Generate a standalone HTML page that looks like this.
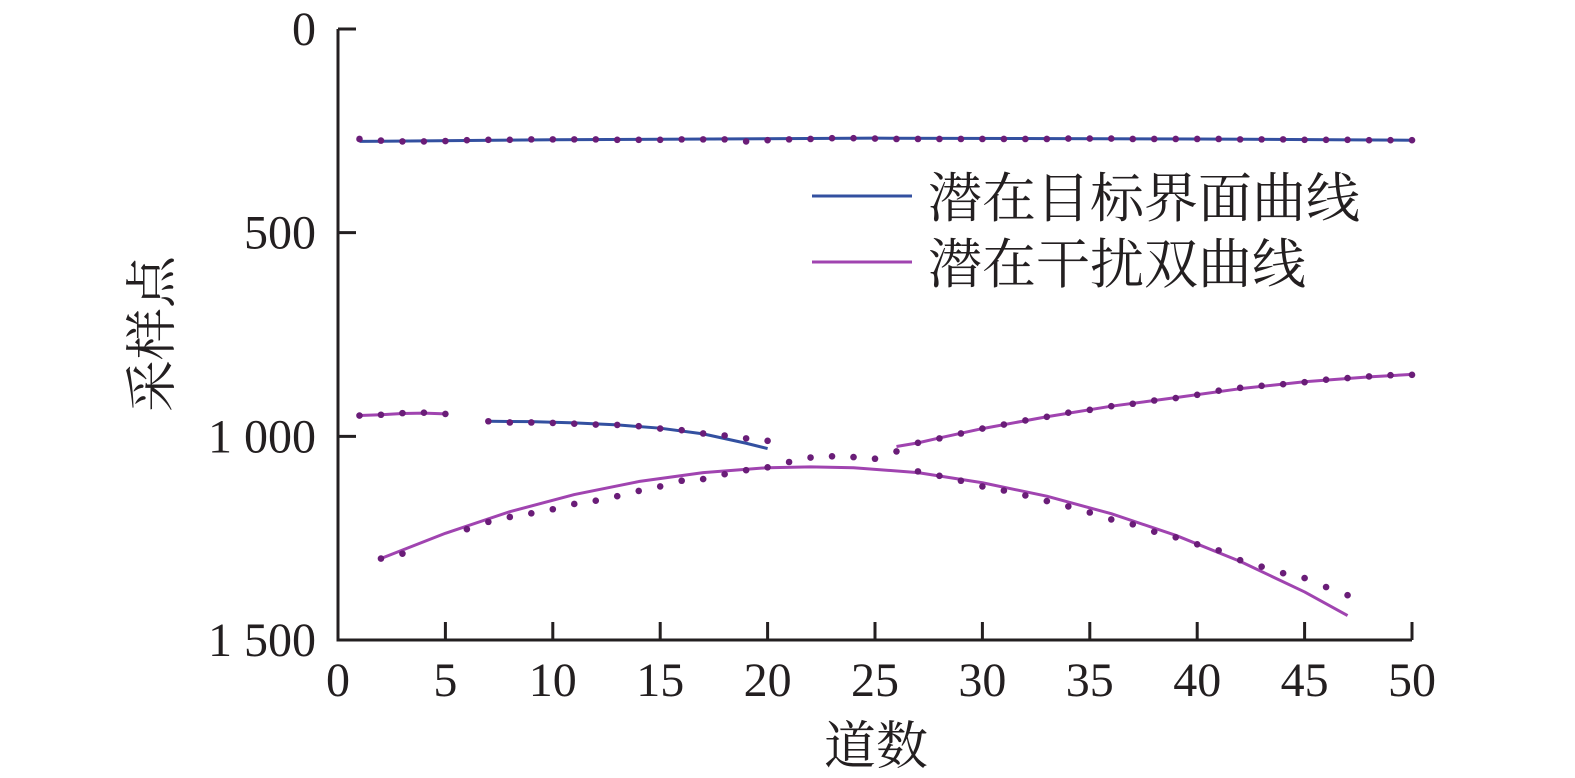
<!DOCTYPE html>
<html><head><meta charset="utf-8"><style>
body{margin:0;background:#fff}
svg{display:block}
text{font-family:"Liberation Serif","Noto Serif CJK SC","Noto Sans CJK SC",serif;fill:#231f20}
</style></head><body>
<svg id="chart" width="1575" height="778" viewBox="0 0 1575 778" xmlns="http://www.w3.org/2000/svg">
<g id="axes"></g>
<g id="series"></g>
<g id="legend">
<line x1="812" y1="196" x2="912" y2="196" stroke="#3350a0" stroke-width="3"/>
<text x="928" y="217" font-size="54">潜在目标界面曲线</text>
<line x1="812" y1="262" x2="912" y2="262" stroke="#a044b0" stroke-width="3"/>
<text x="928" y="283" font-size="54">潜在干扰双曲线</text>
</g>
<text x="876" y="764" font-size="52" text-anchor="middle">道数</text>
<text x="0" y="0" font-size="52" text-anchor="middle" transform="translate(170,334) rotate(-90)">采样点</text>
</svg>
<script>
const xTicks=[0,5,10,15,20,25,30,35,40,45,50];
const yTicks=[0,500,1000,1500];
const yTickLabels=["0","500","1 000","1 500"];
// dots (picked points)
const topDotsX=[1,2,3,4,5,6,7,8,9,10,11,12,13,14,15,16,17,18,19,20,21,22,23,24,25,26,27,28,29,30,31,32,33,34,35,36,37,38,39,40,41,42,43,44,45,46,47,48,49,50];
const topDotsY=[270,274,276,276,275,273,272,272,271,271,271,271,272,272,272,271,271,271,276,273,271,270,268,268,269,270,270,270,270,270,270,270,270,269,269,269,270,270,270,270,270,271,271,271,272,272,272,273,273,273];
const leftDotsX=[1,2,3,4,5];
const leftDotsY=[949,947,943,942,945];
const midDotsX=[7,8,9,10,11,12,13,14,15,16,17,18,19,20];
const midDotsY=[963,966,966,967,969,971,972,975,981,985,993,998,1005,1011];
const lowDotsX=[2,3,6,7,8,9,10,11,12,13,14,15,16,17,18,19,20,21,22,23,24,25,27,28,29,30,31,32,33,34,35,36,37,38,39,40,41,42,43,44,45,46,47];
const lowDotsY=[1300,1288,1228,1210,1198,1189,1179,1166,1158,1147,1134,1123,1109,1105,1093,1083,1076,1063,1052,1049,1051,1055,1086,1097,1109,1123,1133,1145,1159,1172,1187,1204,1216,1234,1248,1265,1280,1304,1320,1336,1348,1370,1390];
const upDotsX=[26,27,28,29,30,31,32,33,34,35,36,37,38,39,40,41,42,43,44,45,46,47,48,49,50];
const upDotsY=[1037,1016,1005,993,981,971,961,952,942,935,926,920,912,906,898,888,881,876,872,867,861,857,853,850,849];
// fitted curves
const topLineX=[1,10,25,40,50];
const topLineY=[276,272,268,270,273];
const leftLineX=[1,2,3,4,5];
const leftLineY=[949,947,944,943,945];
const blueMidX=[7,9,11,13,15,17,19,20];
const blueMidY=[963,964,967,972,980,994,1017,1030];
const lowCurveX=[2,5,8,11,14,17,20,22,24,27,30,33,36,39,42,45,47];
const lowCurveY=[1300,1238,1185,1143,1111,1089,1077,1075,1077,1089,1114,1147,1190,1243,1307,1382,1440];
const upCurveX=[26,27,28,30,33,36,39,42,45,48,50];
const upCurveY=[1025,1016,1004,981,952,926,905,883,866,854,848];

const NS="http://www.w3.org/2000/svg";
const X0=338,X1=1412,Y0=29,Y1=640;
const sx=v=>X0+(v-0)/(50-0)*(X1-X0);
const sy=v=>Y0+(v-0)/(1500-0)*(Y1-Y0);
function mk(tag,attrs,parent){const e=document.createElementNS(NS,tag);for(const k in attrs)e.setAttribute(k,attrs[k]);parent.appendChild(e);return e;}
const axes=document.getElementById('axes');
const ser=document.getElementById('series');
let a=mk('path',{d:`M${X0},${Y0}V${Y1}H${X1}`,fill:'none',stroke:'#231f20','stroke-width':3},axes);


xTicks.forEach(t=>{
 const l=mk('line',{x1:sx(t),x2:sx(t),y1:Y1,y2:Y1-18,stroke:'#231f20','stroke-width':3},axes);
 
 
 const tx=mk('text',{x:sx(t),y:Y1+56,'font-size':48,'text-anchor':'middle'},axes);
 tx.textContent=t;
 
 
});
yTicks.forEach((t,i)=>{
 const l=mk('line',{x1:X0,x2:X0+18,y1:sy(t),y2:sy(t),stroke:'#231f20','stroke-width':3},axes);
 
 
 const tx=mk('text',{x:316,y:sy(t)+16,'font-size':48,'text-anchor':'end'},axes);
 tx.textContent=yTickLabels[i];
 
 
});
function line(xs,ys,color,name){
 const p=mk('polyline',{points:xs.map((x,i)=>sx(x)+','+sy(ys[i])).join(' '),fill:'none',stroke:color,'stroke-width':3,'stroke-linejoin':'round'},ser);
 
 
}
function dots(xs,ys,name){
 xs.forEach((x,i)=>{
  const c=mk('circle',{cx:sx(x),cy:sy(ys[i]),r:3.3,fill:'#6a1d78'},ser);
  
  
 });
}
line(topLineX,topLineY,'#3350a0','target-interface-line-top');
line(leftLineX,leftLineY,'#a044b0','interference-curve-left');
line(blueMidX,blueMidY,'#3350a0','target-interface-line-mid');
line(lowCurveX,lowCurveY,'#a044b0','interference-hyperbola-lower');
line(upCurveX,upCurveY,'#a044b0','interference-hyperbola-upper');
dots(topDotsX,topDotsY,'top-dot');
dots(leftDotsX,leftDotsY,'left-dot');
dots(midDotsX,midDotsY,'mid-dot');
dots(lowDotsX,lowDotsY,'lower-dot');
dots(upDotsX,upDotsY,'upper-dot');
</script>
</body></html>
